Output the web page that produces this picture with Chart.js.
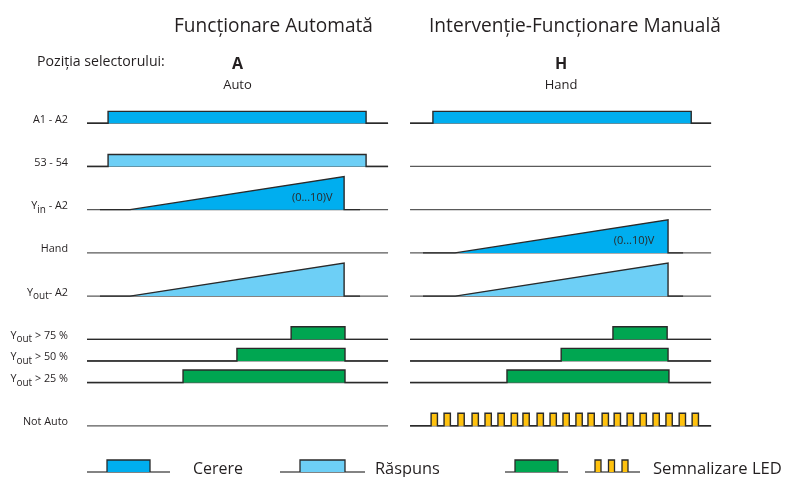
<!DOCTYPE html>
<html><head><meta charset="utf-8">
<script src="https://cdn.jsdelivr.net/npm/chart.js@4.4.0/dist/chart.umd.min.js"></script>
<style>html,body{margin:0;padding:0;background:#fff;overflow:hidden}</style>
</head><body>
<canvas id="c" width="786" height="477"></canvas>
<script>
// ---------- texts ----------
const panelTitles = ['Funcționare Automată', 'Intervenție-Funcționare Manuală'];
const selectorCaption = 'Poziția selectorului:';
const selectorKeys = ['A', 'H'];
const selectorNames = ['Auto', 'Hand'];
const rowLabels = ['A1 - A2', '53 - 54', 'Y|in| - A2', 'Hand', 'Y|out|- A2',
                   'Y|out| > 75 %', 'Y|out| > 50 %', 'Y|out| > 25 %', 'Not Auto'];
const legendLabels = ['Cerere', 'Răspuns', 'Semnalizare LED'];
const rampText = '(0...10)V';

// ---------- timing data (time units, 0..100 per panel) ----------
const autoA1A2 = [7.0, 92.7];          // on, off
const auto5354 = [7.0, 92.7];
const autoYinRamp = [14.3, 85.4];      // ramp start, ramp end (0 -> 10 V)
const autoYoutRamp = [14.3, 85.4];
const autoThresholdOn = [67.8, 49.8, 31.9];   // >75 %, >50 %, >25 %
const autoThresholdOff = [85.7, 85.7, 85.7];

const manualA1A2 = [7.6, 93.4];
const manualHandRamp = [14.95, 85.7];
const manualYoutRamp = [15.0, 85.7];
const manualThresholdOn = [67.4, 50.2, 32.2];
const manualThresholdOff = [85.4, 85.7, 86.0];
const manualLedPulseStarts = [7.0, 11.3, 15.9, 20.6, 24.9, 29.2, 33.6, 37.5, 42.2, 46.5, 50.8,
                              55.1, 59.1, 63.8, 67.8, 72.1, 76.4, 80.7, 85.0, 89.4, 93.7];
const rampVolts = [0, 10];

// ---------- layout / style constants ----------
const PANEL_OFFSET = 107.3;
const rowLanes = [0, 1, 2, 3, 4, 5, 5.5, 6, 7];
const RECT_AMP = 0.275, RAMP_AMP = 0.765, GREEN_AMP = 0.29, LED_AMP = 0.29;
const LED_WIDTH = 2.1;
const C_CERERE = '#00aeef', C_RASPUNS = '#6dcff6', C_GREEN = '#00a651', C_LED = '#ffc20e';
const C_OUT = '#2a2a2a', C_BASE = '#5a5a5a';
const FONT = '"Open Sans", "Noto Sans", sans-serif';

// ---------- path builders ----------
function rectPts(lane, amp, on, off, off0) {
  return [[0, lane], [on, lane], [on, lane - amp], [off, lane - amp], [off, lane], [100, lane]]
    .map(p => ({x: p[0] + off0, y: p[1]}));
}
function rampPts(lane, amp, start, end, off0) {
  const top = lane - amp * (rampVolts[1] - rampVolts[0]) / 10;
  return [[4.3, lane], [start, lane], [end, top], [end, lane], [90.7, lane]]
    .map(p => ({x: p[0] + off0, y: p[1]}));
}
function pulsePts(lane, amp, starts, off0) {
  const pts = [{x: off0, y: lane}];
  starts.forEach(s => {
    pts.push({x: s + off0, y: lane}, {x: s + off0, y: lane - amp},
             {x: s + LED_WIDTH + off0, y: lane - amp}, {x: s + LED_WIDTH + off0, y: lane});
  });
  pts.push({x: 100 + off0, y: lane});
  return pts;
}
function sig(points, lane, color) {
  return {data: points, borderColor: C_OUT, borderWidth: 1.4, backgroundColor: color,
          fill: {value: lane}, order: 1, borderJoinStyle: 'miter'};
}

const datasets = [];
// baselines
[0, PANEL_OFFSET].forEach(off0 => {
  rowLanes.forEach(l => datasets.push({data: [{x: off0, y: l}, {x: 100 + off0, y: l}],
    borderColor: C_BASE, borderWidth: 1.2, fill: false, order: 3}));
});
// auto panel
datasets.push(sig(rectPts(rowLanes[0], RECT_AMP, autoA1A2[0], autoA1A2[1], 0), rowLanes[0], C_CERERE));
datasets.push(sig(rectPts(rowLanes[1], RECT_AMP, auto5354[0], auto5354[1], 0), rowLanes[1], C_RASPUNS));
datasets.push(sig(rampPts(rowLanes[2], RAMP_AMP, autoYinRamp[0], autoYinRamp[1], 0), rowLanes[2], C_CERERE));
datasets.push(sig(rampPts(rowLanes[4], RAMP_AMP, autoYoutRamp[0], autoYoutRamp[1], 0), rowLanes[4], C_RASPUNS));
autoThresholdOn.forEach((on, i) => datasets.push(
  sig(rectPts(rowLanes[5 + i], GREEN_AMP, on, autoThresholdOff[i], 0), rowLanes[5 + i], C_GREEN)));
// manual panel
const P = PANEL_OFFSET;
datasets.push(sig(rectPts(rowLanes[0], RECT_AMP, manualA1A2[0], manualA1A2[1], P), rowLanes[0], C_CERERE));
datasets.push(sig(rampPts(rowLanes[3], RAMP_AMP, manualHandRamp[0], manualHandRamp[1], P), rowLanes[3], C_CERERE));
datasets.push(sig(rampPts(rowLanes[4], RAMP_AMP, manualYoutRamp[0], manualYoutRamp[1], P), rowLanes[4], C_RASPUNS));
manualThresholdOn.forEach((on, i) => datasets.push(
  sig(rectPts(rowLanes[5 + i], GREEN_AMP, on, manualThresholdOff[i], P), rowLanes[5 + i], C_GREEN)));
datasets.push(sig(pulsePts(rowLanes[8], LED_AMP, manualLedPulseStarts, P), rowLanes[8], C_LED));

// ---------- text helpers ----------
function fitSize(ctx, text, width, weight) {
  ctx.font = `${weight} 100px ${FONT}`;
  return 100 * width / ctx.measureText(text).width;
}
function txt(ctx, text, x, y, size, opts = {}) {
  ctx.font = `${opts.weight || 'normal'} ${size}px ${FONT}`;
  ctx.fillStyle = opts.color || '#231f20';
  ctx.textAlign = opts.align || 'left';
  ctx.textBaseline = 'alphabetic';
  ctx.fillText(text, x, y);
}
function richLabel(ctx, label, xRight, y) {
  const parts = label.split('|');
  const size = 10.8, subSize = 10;
  let total = 0;
  parts.forEach((p, i) => { ctx.font = `${i % 2 ? subSize : size}px ${FONT}`; total += ctx.measureText(p).width; });
  let x = xRight - total;
  parts.forEach((p, i) => {
    const sub = i % 2 === 1;
    ctx.font = `${sub ? subSize : size}px ${FONT}`;
    ctx.fillStyle = '#231f20'; ctx.textAlign = 'left'; ctx.textBaseline = 'alphabetic';
    ctx.fillText(p, x, y + (sub ? 3.5 : 0));
    x += ctx.measureText(p).width;
  });
}

const decor = {
  id: 'decor',
  afterDraw(chart) {
    const ctx = chart.ctx, xs = chart.scales.x, ys = chart.scales.y;
    ctx.save();
    // titles
    txt(ctx, panelTitles[0], 174, 32, fitSize(ctx, panelTitles[0], 199, 'normal'));
    txt(ctx, panelTitles[1], 429, 32, fitSize(ctx, panelTitles[1], 292, 'normal'));
    txt(ctx, selectorCaption, 37, 66, fitSize(ctx, selectorCaption, 128, 'normal'));
    [237.5, 561].forEach((cx, i) => {
      txt(ctx, selectorKeys[i], cx, 68.5, 16, {weight: 'bold', align: 'center'});
      txt(ctx, selectorNames[i], cx, 88.5, 13, {align: 'center'});
    });
    // row labels
    rowLabels.forEach((l, i) => richLabel(ctx, l, 68, ys.getPixelForValue(rowLanes[i]) - 0.5));
    // ramp annotations
    const ann = [[74.8, rowLanes[2]], [74.4 + PANEL_OFFSET, rowLanes[3]]];
    ann.forEach(a => txt(ctx, rampText, xs.getPixelForValue(a[0]), ys.getPixelForValue(a[1] - 0.3) + 4, 11,
      {align: 'center', color: '#2a2a2a'}));
    // legend
    const by = 472, ty = 460;
    ctx.lineWidth = 1.3; ctx.lineJoin = 'miter';
    function legRect(x0, x1, r0, r1, fillc) {
      ctx.strokeStyle = C_BASE; ctx.beginPath(); ctx.moveTo(x0, by); ctx.lineTo(x1, by); ctx.stroke();
      ctx.fillStyle = fillc; ctx.fillRect(r0, ty, r1 - r0, by - ty);
      ctx.strokeStyle = C_OUT; ctx.beginPath();
      ctx.moveTo(r0, by); ctx.lineTo(r0, ty); ctx.lineTo(r1, ty); ctx.lineTo(r1, by); ctx.stroke();
    }
    legRect(87, 170, 107, 150, C_CERERE);
    legRect(280, 365, 300, 345, C_RASPUNS);
    legRect(505, 568, 515, 558, C_GREEN);
    ctx.strokeStyle = C_BASE; ctx.beginPath(); ctx.moveTo(585, by); ctx.lineTo(640, by); ctx.stroke();
    [595, 608.5, 622].forEach(px => {
      ctx.fillStyle = C_LED; ctx.fillRect(px, ty, 6, by - ty);
      ctx.strokeStyle = C_OUT; ctx.beginPath();
      ctx.moveTo(px, by); ctx.lineTo(px, ty); ctx.lineTo(px + 6, ty); ctx.lineTo(px + 6, by); ctx.stroke();
    });
    txt(ctx, legendLabels[0], 193, 474, fitSize(ctx, legendLabels[0], 50, 'normal'));
    txt(ctx, legendLabels[1], 375, 474, fitSize(ctx, legendLabels[1], 65, 'normal'));
    txt(ctx, legendLabels[2], 653, 474, fitSize(ctx, legendLabels[2], 129, 'normal'));
    ctx.restore();
  }
};

new Chart(document.getElementById('c'), {
  type: 'line',
  data: {datasets},
  options: {
    responsive: false, animation: false, devicePixelRatio: 1,
    layout: {padding: {left: 87, right: 74, top: 80, bottom: 8}},
    elements: {point: {radius: 0, hoverRadius: 0}, line: {tension: 0}},
    plugins: {legend: {display: false}, tooltip: {enabled: false}},
    events: [],
    scales: {
      x: {type: 'linear', display: false, min: 0, max: 207.6},
      y: {type: 'linear', display: false, reverse: true, min: -1, max: 8}
    }
  },
  plugins: [decor]
});
</script>
</body></html>
